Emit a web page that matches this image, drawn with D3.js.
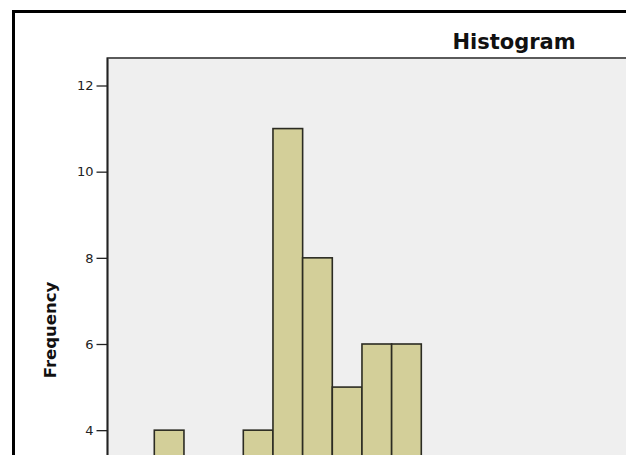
<!DOCTYPE html>
<html>
<head>
<meta charset="utf-8">
<script src="https://d3js.org/d3.v7.min.js"></script>
<style>
  html, body { margin: 0; padding: 0; background: #fff; }
  svg { display: block; overflow: hidden; }
  .axis path, .axis line { stroke: #222; stroke-width: 1.3; }
</style>
</head>
<body>
<div id="chart"></div>
<script>
// histogram bins (index of bin) and their frequencies
const binStarts = [0, 3, 4, 5, 6, 7, 8];
const counts = [4, 4, 11, 8, 5, 6, 6];
const yTicks = [4, 6, 8, 10, 12];
const title = "Histogram";
const yLabel = "Frequency";

const width = 626, height = 455;

const svg = d3.select("#chart").append("svg")
    .attr("width", width)
    .attr("height", height);

// outer frame of the output window
svg.append("rect")
    .attr("x", 13.5)
    .attr("y", 11.5)
    .attr("width", 800)
    .attr("height", 800)
    .attr("fill", "#fff")
    .attr("stroke", "#000")
    .attr("stroke-width", 3);

// scales
let x = d3.scaleLinear()
    .domain([0, 9])
    .range([154.3, 421.3]);

let y = d3.scaleLinear()
    .domain([0, 12])
    .range([602.5, 85.5]);

// plot background
svg.append("rect")
    .attr("x", 107.5)
    .attr("y", 58)
    .attr("width", 700)
    .attr("height", 700)
    .attr("fill", "#efefef")
    .attr("stroke", "#5a5a5a")
    .attr("stroke-width", 2);

// bars
svg.selectAll(".bar")
    .data(binStarts.map((b, i) => ({start: b, count: counts[i]})))
    .enter().append("rect")
    .attr("class", "bar")
    .attr("x", d => x(d.start))
    .attr("y", d => y(d.count))
    .attr("width", d => x(d.start + 1) - x(d.start))
    .attr("height", d => y(0) - y(d.count))
    .attr("fill", "#d3cf99")
    .attr("stroke", "#2b2b22")
    .attr("stroke-width", 1.6);

// y axis
svg.append("g")
    .attr("class", "axis")
    .attr("transform", "translate(107.5,0)")
    .call(d3.axisLeft(y).tickValues(yTicks).tickSize(11).tickPadding(3).tickSizeOuter(0))
    .call(g => g.select(".domain").remove())
    .call(g => g.selectAll("text")
        .style("font-family", "DejaVu Sans, sans-serif")
        .style("font-size", "13px")
        .attr("fill", "#222"));

svg.append("line")
    .attr("x1", 107.5).attr("x2", 107.5)
    .attr("y1", 58).attr("y2", height + 5)
    .attr("stroke", "#222")
    .attr("stroke-width", 1.6);

// title
svg.append("text")
    .attr("x", 514)
    .attr("y", 49)
    .attr("text-anchor", "middle")
    .style("font-family", "DejaVu Sans, sans-serif")
    .style("font-weight", "bold")
    .style("font-size", "21px")
    .attr("fill", "#111")
    .text(title);

// y label
svg.append("text")
    .attr("transform", "translate(56,330) rotate(-90)")
    .attr("text-anchor", "middle")
    .style("font-family", "DejaVu Sans, sans-serif")
    .style("font-weight", "bold")
    .style("font-size", "16.5px")
    .attr("fill", "#111")
    .text(yLabel);
</script>
</body>
</html>
